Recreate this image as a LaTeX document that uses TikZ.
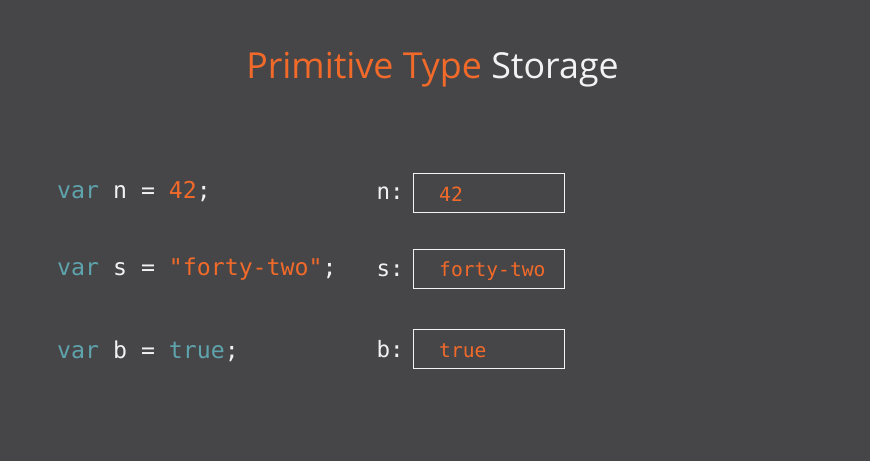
\documentclass[tikz,border=0pt]{standalone}
\usepackage{fontspec}
\setmainfont{Open Sans}
\setmonofont{DejaVu Sans Mono}
\definecolor{bg}{HTML}{464648}
\definecolor{orng}{HTML}{F26A2A}
\definecolor{teal}{HTML}{5FA3AD}
\definecolor{wht}{HTML}{F2F2F2}
\tikzset{
  code/.style={font=\ttfamily\fontsize{23.2}{23.2}\selectfont, text=wht, inner sep=0pt, anchor=base west},
  lbl/.style={font=\ttfamily\fontsize{22.5}{22.5}\selectfont, text=wht, inner sep=0pt, anchor=base west},
  val/.style={font=\ttfamily\fontsize{19.6}{19.6}\selectfont, text=orng, inner sep=0pt, anchor=base west},
  cellbox/.style={draw=wht, line width=1.3pt, minimum width=151pt, minimum height=39pt, inner sep=0pt, anchor=north west},
}
\begin{document}
\begin{tikzpicture}[x=1pt,y=-1pt]
\fill[bg] (0,0) rectangle (870,461);
\useasboundingbox (0,0) rectangle (870,461);
\node[font=\fontsize{35.8}{35.8}\selectfont, inner sep=0pt, anchor=base] (title) at (432.5,78) {\textcolor{orng}{Primitive Type} \textcolor{wht}{Storage}};
% code lines
\node[code] (cn) at (57,198) {\textcolor{teal}{var} n = \textcolor{orng}{42};};
\node[code] (cs) at (57,275) {\textcolor{teal}{var} s = \textcolor{orng}{"forty-two"};};
\node[code] (cb) at (57,358) {\textcolor{teal}{var} b = \textcolor{teal}{true};};
% labels
\node[lbl] (ln) at (376.5,199) {n:};
\node[lbl] (ls) at (376.5,276) {s:};
\node[lbl] (lb) at (376.5,357) {b:};
% boxes
\node[cellbox] (bn) at (413,173) {};
\node[cellbox] (bs) at (413,249) {};
\node[cellbox] (bb) at (413,329) {};
\node[val] (vn) at (439,201) {42};
\node[val] (vs) at (439,276) {forty-two};
\node[val] (vb) at (439,357) {true};
\end{tikzpicture}
\end{document}
